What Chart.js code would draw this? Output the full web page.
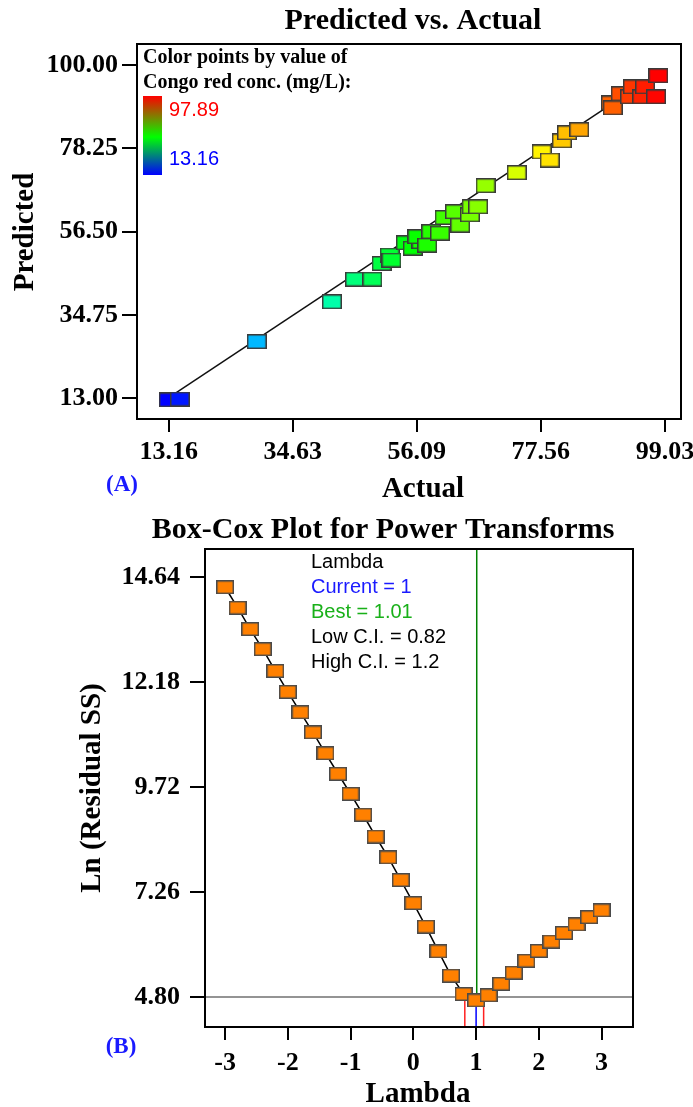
<!DOCTYPE html>
<html>
<head>
<meta charset="utf-8">
<title>Predicted vs. Actual / Box-Cox</title>
<script src="https://cdn.jsdelivr.net/npm/chart.js"></script>
<style>
  html, body { margin: 0; padding: 0; background: #fff; }
  #wrap { position: relative; width: 693px; height: 1107px; }
  canvas { position: absolute; left: 0; }
  #top { top: 0; }
  #bottom { top: 505px; }
</style>
</head>
<body>
<div id="wrap">
  <canvas id="top" width="693" height="505"></canvas>
  <canvas id="bottom" width="693" height="602"></canvas>
</div>
<script>
// ---- (A) Predicted vs. Actual ----
const actual = [13.16, 15.1, 28.4, 41.4, 45.4, 48.4, 50.0, 51.4, 51.7, 54.2,
                55.4, 56.9, 56.2, 57.9, 58.6, 60.1, 60.9, 62.7, 63.6, 65.3,
                65.6, 66.7, 68.0, 73.4, 77.7, 79.1, 81.2, 82.1, 84.2, 89.7,
                90.0, 91.4, 93.0, 93.5, 95.1, 95.6, 97.5, 97.89];
const predicted = [12.6, 12.8, 27.8, 38.2, 44.1, 44.1, 48.2, 50.4, 49.1, 53.6,
                   52.2, 53.9, 55.2, 53.0, 56.5, 56.1, 60.2, 61.7, 58.2, 60.9,
                   63.0, 63.0, 68.5, 71.9, 77.3, 75.2, 80.2, 82.3, 83.1, 90.1,
                   88.8, 92.5, 91.7, 94.3, 91.7, 94.3, 91.7, 97.2];
const colorMin = 13.16, colorMax = 97.89;
const actualTicks = [13.16, 34.63, 56.09, 77.56, 99.03];
const predictedTicks = [13.00, 34.75, 56.50, 78.25, 100.00];
const fitLine = [13.16, 97.89];

// ---- (B) Box-Cox ----
const lambda = [-3.0, -2.8, -2.6, -2.4, -2.2, -2.0, -1.8, -1.6, -1.4, -1.2,
                -1.0, -0.8, -0.6, -0.4, -0.2, 0.0, 0.2, 0.4, 0.6, 0.8,
                1.0, 1.2, 1.4, 1.6, 1.8, 2.0, 2.2, 2.4, 2.6, 2.8, 3.0];
const lnRSS = [14.40, 13.92, 13.42, 12.95, 12.44, 11.95, 11.47, 11.00, 10.51, 10.03,
               9.56, 9.07, 8.56, 8.07, 7.54, 7.00, 6.45, 5.87, 5.30, 4.87,
               4.72, 4.84, 5.11, 5.37, 5.65, 5.88, 6.10, 6.30, 6.50, 6.67, 6.83];
const lambdaTicks = [-3, -2, -1, 0, 1, 2, 3];
const lnTicks = [4.80, 7.26, 9.72, 12.18, 14.64];
const currentLambda = 1, bestLambda = 1.01, lowCI = 0.82, highCI = 1.12;
const ciLevel = 4.80;
const lambdaRange = [-3.32, 3.5], lnRange = [4.097, 15.296];

const serif = "'Liberation Serif', 'Times New Roman', serif";
const sans = "'Liberation Sans', Arial, sans-serif";

function makeBox(w, h, fill, stroke) {
  const c = document.createElement('canvas');
  c.width = w; c.height = h;
  const g = c.getContext('2d');
  g.fillStyle = fill;
  g.fillRect(0, 0, w, h);
  g.strokeStyle = stroke;
  g.lineWidth = 1.5;
  g.strokeRect(0.75, 0.75, w - 1.5, h - 1.5);
  return c;
}

function hueColor(v) {
  const t = Math.min(1, Math.max(0, (v - colorMin) / (colorMax - colorMin)));
  return 'hsl(' + (240 * (1 - t)).toFixed(1) + ',100%,50%)';
}

const framePlugin = {
  id: 'frame',
  afterDraw(chart) {
    const { ctx, chartArea: a } = chart;
    ctx.save();
    ctx.strokeStyle = '#000';
    ctx.lineWidth = 2;
    ctx.strokeRect(a.left, a.top, a.right - a.left, a.bottom - a.top);
    ctx.restore();
  }
};

function textPlugin(items, extra) {
  return {
    id: 'texts',
    afterDraw(chart) {
      const ctx = chart.ctx;
      if (extra) extra(ctx);
      items.forEach(t => {
        ctx.save();
        ctx.font = t.font;
        ctx.fillStyle = t.color || '#000';
        ctx.textAlign = t.align || 'center';
        ctx.textBaseline = t.baseline || 'middle';
        ctx.translate(t.x, t.y);
        if (t.rotate) ctx.rotate(t.rotate);
        ctx.fillText(t.text, 0, 0);
        ctx.restore();
      });
    }
  };
}

// fixed axis sizes, and no extra room reserved for overhanging edge labels
const fitW = w => s => { s.width = w; s.paddingTop = 0; s.paddingBottom = 0; };
const fitH = h => s => { s.height = h; s.paddingLeft = 0; s.paddingRight = 0; };

function axisOpts(min, max, ticks, digits, tickLen, pad, fit) {
  return {
    type: 'linear',
    min: min, max: max,
    afterBuildTicks: ax => { ax.ticks = ticks.map(v => ({ value: v })); },
    afterFit: fit,
    grid: { drawOnChartArea: false, drawTicks: true, tickLength: tickLen, color: '#000', lineWidth: 2 },
    border: { display: true, color: '#000', width: 2 },
    ticks: {
      color: '#000', padding: pad, autoSkip: false, maxRotation: 0,
      font: { family: serif, size: 26, weight: 'bold' },
      callback: v => digits === 0 ? String(v) : Number(v).toFixed(digits)
    }
  };
}

// ---------- top chart ----------
const topPoints = actual.map((a, i) => ({ x: a, y: predicted[i] }));
const topStyles = actual.map(a => makeBox(20, 15, hueColor(a), '#3a3a3a'));

new Chart(document.getElementById('top'), {
  type: 'scatter',
  data: {
    datasets: [
      {
        data: topPoints,
        pointStyle: topStyles,
        pointRadius: 10,
        showLine: false,
        order: 0
      },
      {
        data: fitLine.map(v => ({ x: v, y: v })),
        showLine: true,
        borderColor: '#111',
        borderWidth: 1.5,
        pointRadius: 0,
        order: 1
      }
    ]
  },
  options: {
    responsive: false,
    animation: false,
    events: [],
    layout: { padding: { top: 44, right: 12, left: 0, bottom: 0 } },
    plugins: { legend: { display: false }, tooltip: { enabled: false } },
    scales: {
      x: axisOpts(7.67, 101.82, actualTicks, 2, 13, 5, fitH(86)),
      y: axisOpts(7.60, 105.48, predictedTicks, 2, 15, 4, fitW(137))
    }
  },
  plugins: [framePlugin, textPlugin([
    { text: 'Predicted vs. Actual', x: 413, y: 21, font: 'bold 30px ' + serif },
    { text: 'Predicted', x: 26, y: 232, font: 'bold 29px ' + serif, rotate: -Math.PI / 2 },
    { text: 'Actual', x: 423, y: 490, font: 'bold 29px ' + serif },
    { text: '(A)', x: 122, y: 485, font: 'bold 23px ' + serif, color: '#1a1aff' },
    { text: 'Color points by value of', x: 143, y: 63, font: 'bold 20px ' + serif, align: 'left', baseline: 'alphabetic' },
    { text: 'Congo red conc. (mg/L):', x: 143, y: 88, font: 'bold 20px ' + serif, align: 'left', baseline: 'alphabetic' },
    { text: colorMax.toFixed(2), x: 169, y: 116, font: '20px ' + sans, color: '#ff0000', align: 'left', baseline: 'alphabetic' },
    { text: colorMin.toFixed(2), x: 169, y: 165, font: '20px ' + sans, color: '#0000ff', align: 'left', baseline: 'alphabetic' }
  ], ctx => {
    const g = ctx.createLinearGradient(0, 96, 0, 175);
    g.addColorStop(0, '#ff0000');
    g.addColorStop(0.52, '#00ff00');
    g.addColorStop(1, '#0000ff');
    ctx.save();
    ctx.fillStyle = g;
    ctx.fillRect(143, 96, 19, 79);
    ctx.restore();
  })]
});

// ---------- bottom chart ----------
const orangeBox = makeBox(18, 14, '#ff8000', '#4a4a4a');
const seg = (x1, y1, x2, y2, color) => ({
  data: [{ x: x1, y: y1 }, { x: x2, y: y2 }],
  showLine: true, borderColor: color, borderWidth: 1.5, pointRadius: 0, order: 1
});

new Chart(document.getElementById('bottom'), {
  type: 'scatter',
  data: {
    datasets: [
      {
        data: lambda.map((l, i) => ({ x: l, y: lnRSS[i] })),
        showLine: true,
        borderColor: '#000',
        borderWidth: 1.5,
        pointStyle: orangeBox,
        pointRadius: 9,
        order: 0
      },
      seg(lambdaRange[0], ciLevel, lambdaRange[1], ciLevel, '#707070'),
      seg(bestLambda, lnRange[1], bestLambda, ciLevel, '#008000'),
      seg(currentLambda, ciLevel, currentLambda, lnRange[0], '#0000ff'),
      seg(lowCI, ciLevel, lowCI, lnRange[0], '#ff2020'),
      seg(highCI, ciLevel, highCI, lnRange[0], '#ff2020')
    ]
  },
  options: {
    responsive: false,
    animation: false,
    events: [],
    layout: { padding: { top: 44, right: 60, left: 0, bottom: 0 } },
    plugins: { legend: { display: false }, tooltip: { enabled: false } },
    scales: {
      x: axisOpts(lambdaRange[0], lambdaRange[1], lambdaTicks, 0, 13, 8, fitH(80)),
      y: axisOpts(lnRange[0], lnRange[1], lnTicks, 2, 15, 10, fitW(205))
    }
  },
  plugins: [framePlugin, textPlugin([
    { text: 'Box-Cox Plot for Power Transforms', x: 383, y: 25, font: 'bold 30px ' + serif },
    { text: 'Ln (Residual SS)', x: 93, y: 283, font: 'bold 29px ' + serif, rotate: -Math.PI / 2 },
    { text: 'Lambda', x: 418, y: 590, font: 'bold 29px ' + serif },
    { text: '(B)', x: 121, y: 542, font: 'bold 23px ' + serif, color: '#1a1aff' },
    { text: 'Lambda', x: 311, y: 63, font: '20px ' + sans, align: 'left', baseline: 'alphabetic' },
    { text: 'Current = ' + currentLambda, x: 311, y: 88, font: '20px ' + sans, color: '#1a1aff', align: 'left', baseline: 'alphabetic' },
    { text: 'Best = ' + bestLambda, x: 311, y: 113, font: '20px ' + sans, color: '#19b019', align: 'left', baseline: 'alphabetic' },
    { text: 'Low C.I. = 0.82', x: 311, y: 138, font: '20px ' + sans, align: 'left', baseline: 'alphabetic' },
    { text: 'High C.I. = 1.2', x: 311, y: 163, font: '20px ' + sans, align: 'left', baseline: 'alphabetic' }
  ])]
});
</script>
</body>
</html>
